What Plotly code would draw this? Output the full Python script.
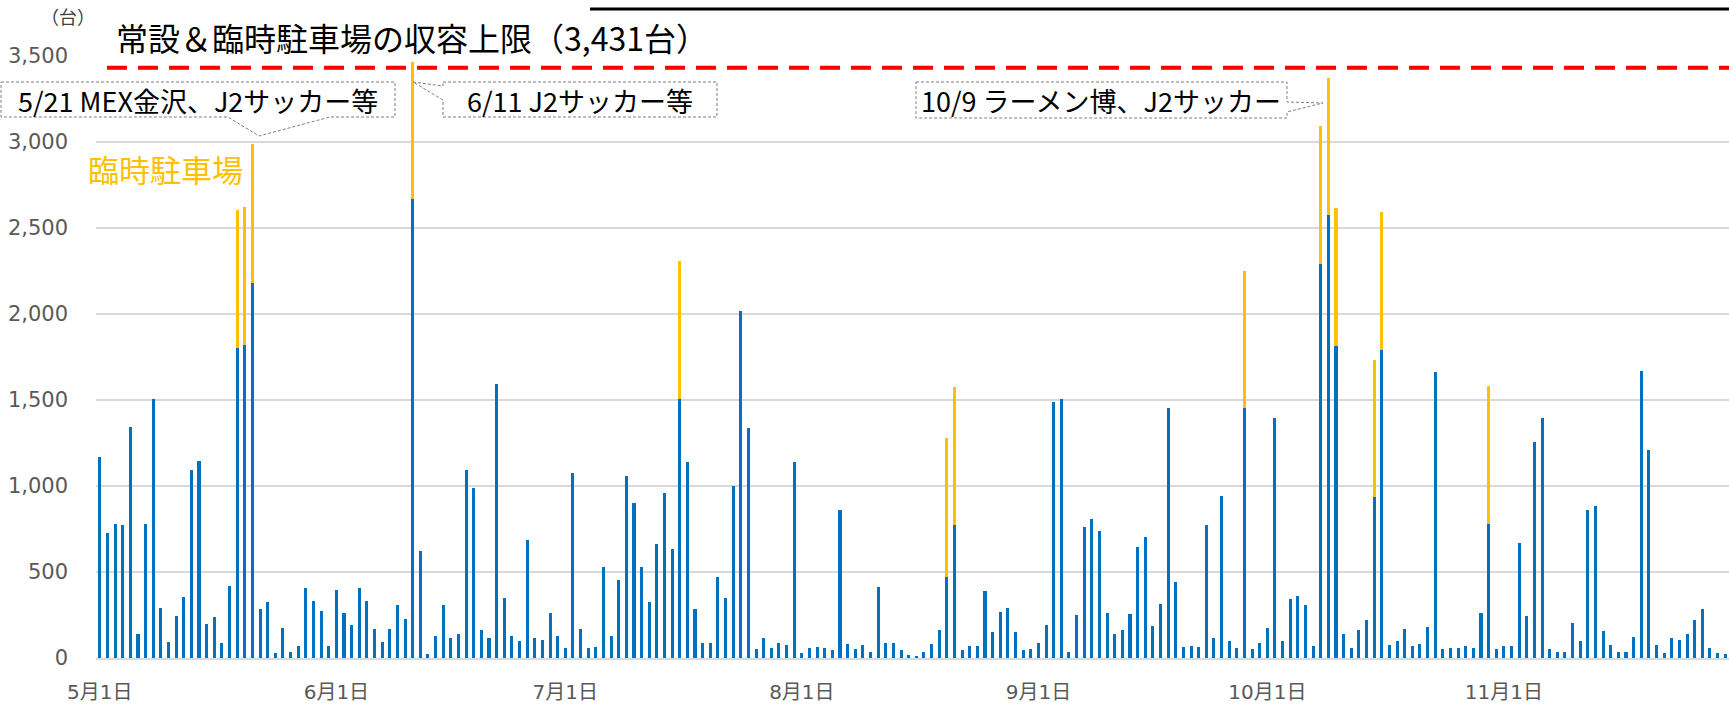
import plotly.graph_objects as go
import pandas as pd

# ---------------- data ----------------
start_date = "2023-05-01"
end_date = "2023-11-30"

# 常設駐車場 daily counts (May 1 .. Nov 30)
regular = [
    1170, 724, 778, 772, 1345, 142, 782, 1506, 293, 95,
    243, 357, 1092, 1145, 198, 239, 85, 417, 1801, 1820,
    2180, 287, 324, 29, 173, 33, 68, 405, 332, 272,
    72, 394, 264, 194, 405, 332, 169, 93, 169, 308,
    225, 2670, 621, 25, 126, 308, 116, 142, 1092, 991,
    161, 116, 1591, 351, 126, 101, 685, 118, 105, 264,
    130, 60, 1077, 171, 60, 62, 528, 126, 456, 1057,
    904, 532, 324, 665, 960, 633, 1506, 1137, 287, 85,
    85, 473, 351, 999, 2016, 1335, 52, 116, 60, 89,
    74, 1141, 29, 60, 64, 60, 45, 858, 82, 52,
    74, 37, 415, 89, 85, 49, 17, 14, 37, 82,
    165, 473, 774, 45, 68, 72, 392, 153, 268, 291,
    153, 49, 52, 85, 194, 1490, 1508, 37, 250, 764,
    807, 741, 264, 138, 165, 256, 648, 704, 186, 312,
    1455, 444, 64, 72, 64, 774, 116, 943, 101, 56,
    1452, 52, 85, 173, 1397, 97, 343, 361, 308, 72,
    2291, 2574, 1816, 142, 56, 161, 223, 935, 1791, 76,
    97, 169, 68, 82, 182, 1665, 52, 60, 60, 72,
    56, 264, 782, 52, 68, 68, 671, 246, 1255, 1397,
    52, 37, 37, 202, 97, 858, 883, 157, 78, 37,
    33, 122, 1670, 1207, 74, 29, 118, 105, 138, 223,
    287, 60, 29, 25,
]

# 臨時駐車場 (only on event days)
temp_dates = ["2023-05-19", "2023-05-20", "2023-05-21", "2023-06-11", "2023-07-16",
              "2023-08-20", "2023-08-21", "2023-09-28", "2023-10-08", "2023-10-09",
              "2023-10-10", "2023-10-15", "2023-10-16", "2023-10-30"]
temp_values = [802, 802, 807, 797, 800, 804, 801, 800, 800, 800, 798, 800, 800, 801]

capacity = 3431

tick_dates = ["2023-05-01", "2023-06-01", "2023-07-01", "2023-08-01",
              "2023-09-01", "2023-10-01", "2023-11-01"]
tick_labels = ["5月1日", "6月1日", "7月1日", "8月1日", "9月1日", "10月1日", "11月1日"]

callouts = ["5/21 MEX金沢、J2サッカー等", "6/11 J2サッカー等", "10/9 ラーメン博、J2サッカー"]

# ---------------- build ----------------
dates = pd.date_range(start_date, end_date, freq="D")
temp_map = dict(zip(pd.to_datetime(temp_dates), temp_values))
temporary = [temp_map.get(d, 0) for d in dates]

W, H = 1729, 705
ML, MR, MT, MB = 96, 0, 56, 47
PW = W - ML - MR
PH = H - MT - MB


def px(x):
    return (x - ML) / PW


def py(y):
    return (H - MB - y) / PH


def path(points):
    return "M " + " L ".join(f"{px(x):.5f},{py(y):.5f}" for x, y in points) + " Z"


BLUE = "#0070C0"
ORANGE = "#FFC000"
GRID = "#D9D9D9"
TICK = "#595959"
JP = "Noto Sans CJK JP"

fig = go.Figure()
fig.add_bar(x=dates, y=regular, marker_color=BLUE, marker_line_width=0, name="常設駐車場")
fig.add_bar(x=dates, y=temporary, marker_color=ORANGE, marker_line_width=0, name="臨時駐車場")

shapes = []
# capacity line
shapes.append(dict(type="line", xref="paper", yref="y", x0=px(107), x1=1,
                   y0=capacity, y1=capacity,
                   line=dict(color="#FF0000", width=4, dash="20px,11px")))
# bottom edge of a box above the chart (top-right)
shapes.append(dict(type="line", xref="paper", yref="paper",
                   x0=px(590), x1=1.0, y0=py(9), y1=py(9),
                   line=dict(color="black", width=3)))
# callout boxes
box_style = dict(type="path", xref="paper", yref="paper", fillcolor="white",
                 line=dict(color="#7F7F7F", width=1, dash="3px,2px"), layer="above")
shapes.append(dict(box_style, path=path([(1, 82), (395, 82), (395, 117), (330, 117),
                                         (259, 136), (228, 117), (1, 117)])))
shapes.append(dict(box_style, path=path([(443, 82), (717, 82), (717, 117), (443, 117),
                                         (443, 100), (413, 82), (443, 86)])))
shapes.append(dict(box_style, path=path([(916, 82), (1287, 82), (1287, 102), (1323, 103),
                                         (1287, 112), (1287, 118), (916, 118)])))

annotations = []


def ann(text, x, y, size, color="black", xanchor="center"):
    annotations.append(dict(text=text, x=px(x), y=py(y), xref="paper", yref="paper",
                            xanchor=xanchor, yanchor="middle", showarrow=False,
                            font=dict(family=JP, size=size, color=color)))


ann("（台）", 68, 16, 18, color="#404040")
ann("常設＆臨時駐車場の収容上限（3,431台）", 114, 37, 32, xanchor="left")
ann("臨時駐車場", 86, 168, 31, color=ORANGE, xanchor="left")
ann(callouts[0], 198, 100, 27)
ann(callouts[1], 580, 100, 27)
ann(callouts[2], 1101, 100, 27)

fig.update_layout(
    width=W, height=H, autosize=False,
    margin=dict(l=ML, r=MR, t=MT, b=MB, autoexpand=False),
    paper_bgcolor="white", plot_bgcolor="white",
    barmode="stack", bargap=0.6,
    showlegend=False,
    shapes=shapes, annotations=annotations,
    font=dict(family="DejaVu Sans, " + JP),
)
fig.update_xaxes(
    type="date",
    range=["2023-04-30 12:00", "2023-11-30 12:00"],
    tickvals=tick_dates, ticktext=tick_labels,
    tickfont=dict(family="DejaVu Sans, " + JP, size=20, color=TICK),
    showgrid=False, showline=True, linecolor=GRID, linewidth=1.5,
    ticks="", ticklabelstandoff=15, automargin=False,
)
fig.update_yaxes(
    range=[0, 3500], dtick=500, tickformat=",",
    tickfont=dict(family="DejaVu Sans", size=21, color=TICK),
    showgrid=True, gridcolor=GRID, gridwidth=1.5, zeroline=False,
    ticks="", ticklabelstandoff=27, automargin=False,
)

fig.write_html("out.html", config={"displayModeBar": False},
               post_script="document.body.style.margin='0';")
